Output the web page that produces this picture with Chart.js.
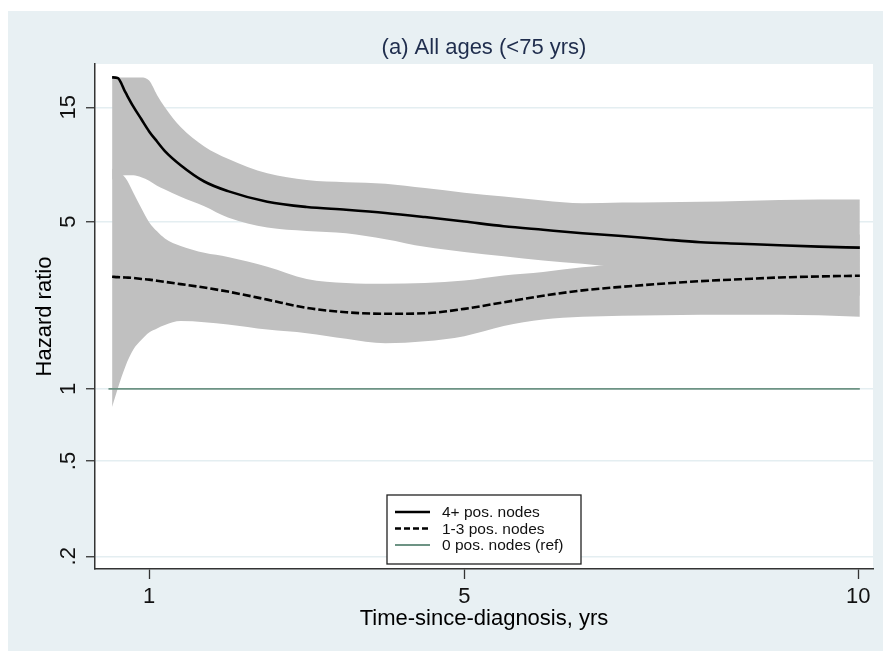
<!DOCTYPE html>
<html>
<head>
<meta charset="utf-8">
<title>Hazard ratio by time since diagnosis</title>
<script src="https://cdn.jsdelivr.net/npm/chart.js@4.4.1/dist/chart.umd.min.js"></script>
<style>
  html, body { margin: 0; padding: 0; background: #fff; }
  #wrap { width: 883px; height: 651px; }
</style>
</head>
<body>
<div id="wrap"><canvas id="chart" width="883" height="651"></canvas></div>
<script>
  "use strict";

  // time since diagnosis (yrs)
  const years = [0.53, 0.6, 0.7, 0.8, 0.9, 1.0, 1.1, 1.2, 1.4, 1.7, 2.0, 2.5, 3.0, 3.5, 4.0, 4.5, 5.0, 5.5, 6.0, 6.5, 7.0, 7.5, 8.0, 8.5, 9.0, 9.5, 10.02];

  // 4+ positive nodes: hazard ratio and 95% CI (clipped at 20 like the source plot)
  const hr4 = [20, 19.9, 17.3, 15.1, 13.4, 11.9, 10.8, 9.85, 8.6, 7.35, 6.7, 6.05, 5.75, 5.6, 5.43, 5.22, 5.0, 4.78, 4.62, 4.47, 4.35, 4.22, 4.1, 4.04, 3.98, 3.93, 3.89];
  const hr4Hi = [20, 20, 20, 20, 20, 19.4, 16.9, 15.0, 12.4, 10.3, 9.15, 7.95, 7.46, 7.3, 7.2, 6.9, 6.6, 6.36, 6.12, 5.96, 6.0, 6.02, 6.05, 6.1, 6.15, 6.18, 6.18];
  const hr4Lo = [7.5, 7.7, 7.8, 7.8, 7.65, 7.4, 7.05, 6.8, 6.35, 5.8, 5.2, 4.72, 4.57, 4.47, 4.22, 3.92, 3.73, 3.58, 3.44, 3.33, 3.2, 3.05, 2.9, 2.78, 2.65, 2.55, 2.45];

  // 1-3 positive nodes
  const hr13 = [2.94, 2.93, 2.92, 2.91, 2.88, 2.86, 2.83, 2.8, 2.74, 2.65, 2.55, 2.36, 2.18, 2.09, 2.06, 2.07, 2.16, 2.3, 2.45, 2.58, 2.67, 2.75, 2.82, 2.87, 2.92, 2.95, 2.97];
  const hr13Hi = [8.3, 8.1, 7.6, 6.6, 5.7, 4.97, 4.55, 4.25, 3.95, 3.7, 3.56, 3.24, 2.88, 2.77, 2.75, 2.77, 2.84, 2.98, 3.08, 3.22, 3.35, 3.6, 3.82, 4.0, 4.15, 4.3, 4.41];
  const hr13Lo = [0.84, 1.0, 1.245, 1.46, 1.6, 1.72, 1.79, 1.85, 1.92, 1.9, 1.86, 1.77, 1.71, 1.62, 1.55, 1.58, 1.66, 1.83, 1.95, 2.0, 2.02, 2.03, 2.04, 2.04, 2.04, 2.03, 2.0];

  // 0 pos. nodes = reference
  const refYears = [0.484, 10.02];
  const refHr = [1, 1];

  const xTicks = [1, 5, 10];
  const yTicks = [0.2, 0.5, 1, 5, 15];
  const yTickLabels = [".2", ".5", "1", "5", "15"];
  const legendLabels = ["4+ pos. nodes", "1-3 pos. nodes", "0 pos. nodes (ref)"];
  const titleText = "(a) All ages (<75 yrs)";
  const xTitle = "Time-since-diagnosis, yrs";
  const yTitle = "Hazard ratio";

  const FONT = "'Liberation Sans', Arial, Helvetica, sans-serif";
  const BAND = "#c0c0c0";

  Chart.defaults.font.family = FONT;

  const pts = (xs, ys) => xs.map((x, i) => ({ x: x, y: ys[i] }));

  // light bluish outer region + white plot region, like the stata scheme
  const backdrop = {
    id: "backdrop",
    beforeDraw: function (chart) {
      const ctx = chart.ctx;
      const a = chart.chartArea;
      ctx.save();
      ctx.fillStyle = "#ffffff";
      ctx.fillRect(0, 0, chart.width, chart.height);
      ctx.fillStyle = "#e8f0f3";
      ctx.fillRect(8, 11, chart.width - 8, chart.height - 11);
      ctx.fillStyle = "#ffffff";
      ctx.fillRect(a.left, a.top, a.right - a.left, a.bottom - a.top);
      ctx.restore();
    },
  };

  // stata centres the title over the plot region, not the whole canvas
  const centreTitle = {
    id: "centreTitle",
    afterLayout: function (chart) {
      const t = chart.titleBlock;
      if (t) {
        t.left = chart.chartArea.left;
        t.right = chart.chartArea.right;
      }
    },
  };

  // boxed legend sitting inside the plot, bottom centre
  const boxLegend = {
    id: "boxLegend",
    afterDraw: function (chart) {
      const ctx = chart.ctx;
      const x0 = 387, y0 = 495, w = 194, h = 69;
      ctx.save();
      ctx.fillStyle = "#ffffff";
      ctx.fillRect(x0, y0, w, h);
      ctx.strokeStyle = "#222";
      ctx.lineWidth = 1.3;
      ctx.strokeRect(x0, y0, w, h);
      ctx.font = "15.5px " + FONT;
      ctx.textBaseline = "middle";
      ctx.textAlign = "left";
      legendLabels.forEach((label, i) => {
        const ds = chart.data.datasets[i];
        const y = y0 + 17 + i * 16.5;
        ctx.beginPath();
        ctx.setLineDash(ds.borderDash ? [6, 3] : []);
        ctx.strokeStyle = ds.borderColor;
        ctx.lineWidth = ds.borderWidth;
        ctx.moveTo(x0 + 8, y);
        ctx.lineTo(x0 + 43, y);
        ctx.stroke();
        ctx.setLineDash([]);
        ctx.fillStyle = "#111";
        ctx.fillText(label, x0 + 55, y + 1);
      });
      ctx.restore();
    },
  };

  const chart = new Chart(document.getElementById("chart"), {
    type: "line",
    data: {
      datasets: [
        {
          label: legendLabels[0],
          data: pts(years, hr4),
          borderColor: "#000",
          borderWidth: 2.6,
          fill: false,
        },
        {
          label: legendLabels[1],
          data: pts(years, hr13),
          borderColor: "#000",
          borderWidth: 2.6,
          borderDash: [8, 3],
          fill: false,
        },
        {
          label: legendLabels[2],
          data: pts(refYears, refHr),
          borderColor: "#6d9384",
          borderWidth: 1.8,
          fill: false,
          cubicInterpolationMode: "default",
          tension: 0,
        },
        {
          label: "4+ upper",
          data: pts(years, hr4Hi),
          borderColor: "rgba(0,0,0,0)",
          backgroundColor: BAND,
          fill: "+1",
        },
        {
          label: "4+ lower",
          data: pts(years, hr4Lo),
          borderColor: "rgba(0,0,0,0)",
          fill: false,
        },
        {
          label: "1-3 upper",
          data: pts(years, hr13Hi),
          borderColor: "rgba(0,0,0,0)",
          backgroundColor: BAND,
          fill: "+1",
        },
        {
          label: "1-3 lower",
          data: pts(years, hr13Lo),
          borderColor: "rgba(0,0,0,0)",
          fill: false,
        },
      ],
    },
    options: {
      responsive: false,
      animation: false,
      events: [],
      layout: { padding: { left: 8, top: 11, right: 10, bottom: 0 } },
      elements: {
        point: { radius: 0 },
        line: { cubicInterpolationMode: "monotone" },
      },
      plugins: {
        legend: { display: false },
        tooltip: { enabled: false },
        title: {
          display: true,
          text: titleText,
          color: "#1f2d4d",
          font: { size: 22, weight: "normal" },
          padding: { top: 24, bottom: 2.6 },
        },
      },
      scales: {
        x: {
          type: "linear",
          min: 0.313,
          max: 10.187,
          afterBuildTicks: (s) => { s.ticks = xTicks.map((v) => ({ value: v })); },
          afterFit: (s) => { s.height = 82; },
          grid: {
            drawOnChartArea: false,
            drawTicks: true,
            tickLength: 10,
            tickColor: "#333",
            tickWidth: 1.3,
          },
          border: { color: "#333", width: 1.5 },
          ticks: {
            color: "#111",
            font: { size: 22 },
            padding: 5,
            maxRotation: 0,
            autoSkip: false,
            callback: (v) => String(v),
          },
          title: {
            display: true,
            text: xTitle,
            color: "#000",
            font: { size: 22 },
            padding: { top: 0, bottom: 19 },
          },
        },
        y: {
          type: "logarithmic",
          min: 0.177,
          max: 22.75,
          afterBuildTicks: (s) => { s.ticks = yTicks.map((v) => ({ value: v })); },
          afterFit: (s) => { s.width = 87; },
          grid: {
            color: "#e4eef1",
            lineWidth: 1.5,
            tickColor: "#333",
            tickLength: 9,
            tickWidth: 1.3,
          },
          border: { color: "#333", width: 1.5 },
          ticks: {
            minRotation: 90,
            maxRotation: 90,
            crossAlign: "center",
            padding: 5,
            autoSkip: false,
            color: "#111",
            font: { size: 22 },
            callback: (v) => {
              const i = yTicks.indexOf(v);
              return i < 0 ? "" : yTickLabels[i];
            },
          },
          title: {
            display: true,
            text: yTitle,
            color: "#000",
            font: { size: 22 },
            padding: { top: 24, bottom: 0 },
          },
        },
      },
    },
    plugins: [backdrop, centreTitle, boxLegend],
  });
</script>
</body>
</html>
